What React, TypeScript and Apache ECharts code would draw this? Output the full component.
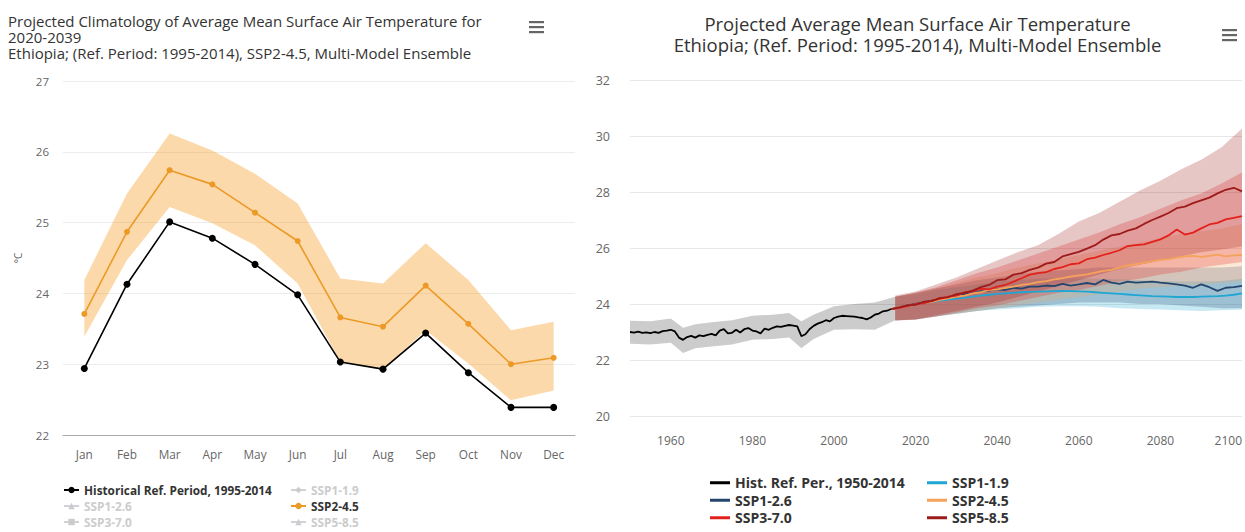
import React, { useEffect, useRef } from "react";
import * as echarts from "echarts";

const FONT = "'Open Sans', 'Noto Sans', sans-serif";

// ---------- Left chart: monthly climatology 2020-2039 ----------
const months = ["Jan", "Feb", "Mar", "Apr", "May", "Jun", "Jul", "Aug", "Sep", "Oct", "Nov", "Dec"];
const histMonthly = [22.94, 24.13, 25.01, 24.78, 24.41, 23.98, 23.03, 22.93, 23.44, 22.88, 22.39, 22.39];
const ssp245Monthly = [23.71, 24.87, 25.74, 25.54, 25.14, 24.74, 23.66, 23.53, 24.11, 23.57, 23.0, 23.09];
const ssp245MonthlyUpper = [24.19, 25.41, 26.26, 26.02, 25.69, 25.27, 24.21, 24.14, 24.71, 24.19, 23.48, 23.6];
const ssp245MonthlyLower = [23.39, 24.47, 25.22, 24.99, 24.68, 24.14, 23.03, 22.92, 23.48, 23.01, 22.49, 22.63];
const leftYTicks = { min: 22, max: 27, step: 1 };

// ---------- Right chart: annual series 1950-2100 ----------
const histStartYear = 1950;
const histAnnual = [
  23.0, 22.98, 23.01, 22.97, 22.99, 22.96, 23.0, 22.97, 23.03, 23.05,
  23.08, 23.02, 22.8, 22.72, 22.82, 22.86, 22.8, 22.88, 22.85, 22.9,
  22.93, 22.88, 23.05, 23.1, 22.95, 22.97, 23.08, 22.98, 23.1, 23.14,
  23.05, 23.02, 22.95, 23.12, 23.08, 23.15, 23.2, 23.18, 23.22, 23.25,
  23.23, 23.2, 22.85, 22.92, 23.1, 23.22, 23.3, 23.35, 23.42, 23.38,
  23.5, 23.55, 23.58, 23.57, 23.56, 23.55, 23.52, 23.5, 23.45, 23.52,
  23.62, 23.66, 23.74, 23.76, 23.82,
];
const histBandYears = [1950, 1955, 1960, 1963, 1966, 1970, 1975, 1980, 1985, 1989, 1992, 1995, 2000, 2005, 2010, 2015];
const histBandUpper = [23.4, 23.38, 23.48, 23.15, 23.28, 23.35, 23.42, 23.58, 23.62, 23.68, 23.38, 23.62, 23.92, 24.0, 24.05, 24.26];
const histBandLower = [22.58, 22.55, 22.62, 22.25, 22.42, 22.48, 22.55, 22.72, 22.75, 22.8, 22.42, 22.75, 23.08, 23.1, 23.08, 23.42];

// projection lines: every 2 years, 2014..2100
const projStartYear = 2014;
const projStep = 2;
const ssp119 = [
  23.82, 23.88, 23.94, 23.98, 24.04, 24.08, 24.12, 24.16, 24.19, 24.22,
  24.26, 24.3, 24.33, 24.36, 24.38, 24.4, 24.42, 24.43, 24.44, 24.45,
  24.46, 24.47, 24.46, 24.45, 24.44, 24.42, 24.4, 24.38, 24.36, 24.34,
  24.32, 24.3, 24.28, 24.27, 24.26, 24.25, 24.25, 24.25, 24.26, 24.27,
  24.28, 24.3, 24.33, 24.38,
];
const ssp126 = [
  23.82, 23.88, 23.95, 24.0, 24.06, 24.12, 24.18, 24.24, 24.3, 24.36,
  24.4, 24.46, 24.48, 24.52, 24.5, 24.58, 24.55, 24.62, 24.62, 24.66,
  24.64, 24.72, 24.66, 24.7, 24.75, 24.7, 24.86, 24.76, 24.72, 24.8,
  24.76, 24.78, 24.8, 24.76, 24.74, 24.7, 24.66, 24.58, 24.7, 24.6,
  24.47, 24.58, 24.6, 24.65,
];
const ssp245 = [
  23.82, 23.88, 23.93, 23.98, 24.04, 24.08, 24.15, 24.2, 24.26, 24.3,
  24.38, 24.42, 24.5, 24.52, 24.58, 24.62, 24.68, 24.72, 24.78, 24.82,
  24.88, 24.92, 24.98, 25.02, 25.06, 25.12, 25.18, 25.22, 25.3, 25.38,
  25.42, 25.48, 25.52, 25.58, 25.6, 25.66, 25.7, 25.72, 25.68, 25.72,
  25.76, 25.7, 25.74, 25.75,
];
const ssp370 = [
  23.82, 23.86, 23.92, 24.0, 24.02, 24.12, 24.18, 24.26, 24.3, 24.42,
  24.45, 24.55, 24.52, 24.62, 24.68, 24.8, 24.92, 25.05, 25.1, 25.14,
  25.25, 25.32, 25.42, 25.45, 25.6, 25.66, 25.75, 25.83, 25.92, 26.07,
  26.1, 26.13, 26.22, 26.31, 26.45, 26.66, 26.48, 26.55, 26.7, 26.84,
  26.9, 27.02, 27.08, 27.14,
];
const ssp585 = [
  23.82, 23.88, 23.95, 23.97, 24.08, 24.1, 24.22, 24.24, 24.35, 24.4,
  24.48, 24.6, 24.68, 24.85, 24.88, 25.05, 25.1, 25.22, 25.3, 25.44,
  25.5, 25.7, 25.78, 25.86, 25.98, 26.1, 26.3, 26.45, 26.5, 26.62,
  26.7, 26.86, 27.0, 27.12, 27.25, 27.42, 27.48, 27.6, 27.7, 27.8,
  27.95, 28.08, 28.15, 28.02,
];

// projection ranges: every 5 years, 2015..2100
const bandStartYear = 2015;
const bandStep = 5;
const ssp119Upper = [24.26, 24.35, 24.5, 24.6, 24.7, 24.8, 24.85, 24.9, 24.92, 24.92, 24.9, 24.88, 24.85, 24.82, 24.8, 24.8, 24.82, 24.9];
const ssp119Lower = [23.42, 23.45, 23.55, 23.65, 23.75, 23.8, 23.85, 23.9, 23.92, 23.92, 23.9, 23.85, 23.82, 23.8, 23.78, 23.75, 23.78, 23.8];
const ssp126Upper = [24.26, 24.4, 24.55, 24.7, 24.85, 24.95, 25.05, 25.15, 25.2, 25.25, 25.3, 25.3, 25.3, 25.3, 25.3, 25.3, 25.3, 25.35];
const ssp126Lower = [23.42, 23.45, 23.55, 23.65, 23.75, 23.85, 23.9, 23.95, 24.0, 24.05, 24.05, 24.05, 24.0, 24.0, 23.95, 23.9, 23.85, 23.85];
const ssp245Upper = [24.26, 24.4, 24.55, 24.75, 24.95, 25.1, 25.3, 25.45, 25.6, 25.75, 25.9, 26.05, 26.2, 26.35, 26.5, 26.6, 26.7, 26.85];
const ssp245Lower = [23.42, 23.45, 23.55, 23.65, 23.75, 23.85, 23.95, 24.05, 24.15, 24.25, 24.35, 24.45, 24.55, 24.6, 24.65, 24.7, 24.75, 24.8];
const ssp370Upper = [24.26, 24.4, 24.6, 24.85, 25.1, 25.3, 25.55, 25.8, 26.05, 26.3, 26.55, 26.85, 27.1, 27.4, 27.7, 27.95, 28.3, 28.7];
const ssp370Lower = [23.42, 23.45, 23.55, 23.7, 23.85, 23.95, 24.1, 24.25, 24.4, 24.5, 24.65, 24.8, 24.9, 25.05, 25.15, 25.3, 25.4, 25.5];
const ssp585Upper = [24.3, 24.45, 24.7, 24.95, 25.25, 25.55, 25.85, 26.1, 26.5, 26.95, 27.25, 27.65, 28.05, 28.4, 28.8, 29.15, 29.6, 30.27];
const ssp585Lower = [23.4, 23.45, 23.6, 23.75, 23.9, 24.05, 24.25, 24.45, 24.65, 24.85, 25.05, 25.25, 25.4, 25.55, 25.7, 25.85, 25.95, 26.05];

const rightYTicks = { min: 20, max: 32, step: 2 };
const rightXRange = { min: 1950, max: 2100, step: 10, labelEvery: 20 };

const COLORS = {
  hist: "#000000",
  ssp119: "#1fa6d3",
  ssp126: "#24466e",
  ssp245: "#f5a25a",
  ssp370: "#e3211c",
  ssp585: "#9e1b1b",
};

function hexToRgba(hex: string, a: number) {
  const n = parseInt(hex.slice(1), 16);
  return `rgba(${(n >> 16) & 255},${(n >> 8) & 255},${n & 255},${a})`;
}

function bandSeries(name: string, xs: number[], lo: number[], hi: number[], fill: string) {
  const data = xs.map((x, i) => [x, lo[i], hi[i]]);
  return {
    type: "custom",
    name,
    silent: true,
    data,
    encode: { x: 0, y: [1, 2] },
    renderItem: (params: any, api: any) => {
      if (params.dataIndex !== 0) return null;
      const top = data.map((d) => api.coord([d[0], d[2]]));
      const bot = data.map((d) => api.coord([d[0], d[1]])).reverse();
      return {
        type: "polygon",
        shape: { points: top.concat(bot) },
        style: { fill },
        silent: true,
      };
    },
  };
}

function menuIcon(x: number, y: number) {
  return {
    type: "group",
    x,
    y,
    children: [0, 5, 10].map((dy) => ({
      type: "rect",
      shape: { x: 0, y: dy, width: 15, height: 2.2 },
      style: { fill: "#666" },
    })),
  };
}

function buildLeft() {
  const HIST = "Historical Ref. Period, 1995-2014";
  const legendText = { fontSize: 11.8, fontWeight: "bold", color: "#333", fontFamily: FONT, lineHeight: 14 };
  const hidden = { "SSP1-1.9": false, "SSP1-2.6": false, "SSP3-7.0": false, "SSP5-8.5": false };
  const legendBase = {
    orient: "vertical",
    top: 483,
    padding: 0,
    itemWidth: 15,
    itemHeight: 8,
    itemGap: 2,
    inactiveColor: "#ccc",
    textStyle: legendText,
    selected: hidden,
  };
  return {
    animation: false,
    textStyle: { fontFamily: FONT },
    title: {
      text: "Projected Climatology of Average Mean Surface Air Temperature for\n2020-2039",
      subtext: "Ethiopia; (Ref. Period: 1995-2014), SSP2-4.5, Multi-Model Ensemble",
      left: 8,
      top: 12.5,
      padding: 0,
      itemGap: 0,
      textStyle: { fontSize: 15, fontWeight: "normal", color: "#333", lineHeight: 16.3, fontFamily: FONT },
      subtextStyle: { fontSize: 15, color: "#333", lineHeight: 16.3, fontFamily: FONT },
    },
    graphic: [menuIcon(529, 21)],
    grid: { left: 63, right: 15, top: 81, bottom: 97 },
    xAxis: {
      type: "category",
      data: months,
      boundaryGap: true,
      axisLine: { lineStyle: { color: "#aaa" } },
      axisTick: { show: false },
      axisLabel: { color: "#666", fontSize: 11.8, margin: 13 },
    },
    yAxis: {
      type: "value",
      min: leftYTicks.min,
      max: leftYTicks.max,
      interval: leftYTicks.step,
      name: "°C",
      nameLocation: "middle",
      nameGap: 40,
      nameTextStyle: { color: "#666", fontSize: 10 },
      axisLabel: { color: "#666", fontSize: 11.5, margin: 14 },
      splitLine: { lineStyle: { color: "#ececec" } },
    },
    legend: [
      { ...legendBase, left: 63, data: [HIST, "SSP1-2.6", "SSP3-7.0"] },
      { ...legendBase, left: 290, data: ["SSP1-1.9", "SSP2-4.5", "SSP5-8.5"] },
    ],
    series: [
      bandSeries(
        "SSP2-4.5 range",
        months.map((_, i) => i),
        ssp245MonthlyLower,
        ssp245MonthlyUpper,
        "rgba(246,154,35,0.38)"
      ),
      {
        type: "line",
        name: HIST,
        data: histMonthly,
        color: "#000",
        symbol: "circle",
        symbolSize: 7,
        lineStyle: { width: 1.6, color: "#000" },
        itemStyle: { color: "#000" },
      },
      {
        type: "line",
        name: "SSP2-4.5",
        data: ssp245Monthly,
        color: "#ec9a27",
        symbol: "circle",
        symbolSize: 6,
        lineStyle: { width: 1.6, color: "#ec9a27" },
        itemStyle: { color: "#ec9a27" },
      },
      { type: "line", name: "SSP1-1.9", data: [], symbol: "diamond", color: "#999" },
      { type: "line", name: "SSP1-2.6", data: [], symbol: "triangle", color: "#999" },
      { type: "line", name: "SSP3-7.0", data: [], symbol: "rect", color: "#999" },
      { type: "line", name: "SSP5-8.5", data: [], symbol: "triangle", color: "#999" },
    ],
  };
}

function buildRight() {
  const HIST = "Hist. Ref. Per., 1950-2014";
  const histData = histAnnual.map((v, i) => [histStartYear + i, v]);
  const projX = (i: number) => projStartYear + i * projStep;
  const bandYears = ssp585Upper.map((_, i) => bandStartYear + i * bandStep);
  const legendText = { fontSize: 14, fontWeight: "bold", color: "#333", fontFamily: FONT, lineHeight: 15.5 };
  const legendBase = {
    orient: "vertical",
    top: 475,
    padding: 0,
    icon: "rect",
    itemWidth: 20,
    itemHeight: 3,
    itemGap: 2,
    textStyle: legendText,
  };
  const line = (name: string, vals: number[], color: string) => ({
    type: "line",
    name,
    data: vals.map((v, i) => [projX(i), v]),
    color,
    showSymbol: false,
    symbol: "none",
    lineStyle: { width: 1.8, color },
    itemStyle: { color },
  });
  const A = 0.25;
  return {
    animation: false,
    textStyle: { fontFamily: FONT },
    title: {
      text: "Projected Average Mean Surface Air Temperature\nEthiopia; (Ref. Period: 1995-2014), Multi-Model Ensemble",
      left: "center",
      top: 13,
      padding: 0,
      textStyle: { fontSize: 18.5, fontWeight: "normal", color: "#333", lineHeight: 21, fontFamily: FONT },
    },
    graphic: [menuIcon(632, 29)],
    grid: { left: 40, right: 3, top: 80, bottom: 116 },
    xAxis: {
      type: "value",
      min: rightXRange.min,
      max: rightXRange.max,
      interval: rightXRange.step,
      axisLine: { show: false },
      axisTick: { show: false },
      splitLine: { show: false },
      axisLabel: {
        color: "#666",
        fontSize: 12,
        margin: 18,
        alignMaxLabel: "right",
        formatter: (v: number) => (v % rightXRange.labelEvery === 0 ? String(v) : ""),
      },
    },
    yAxis: {
      type: "value",
      min: rightYTicks.min,
      max: rightYTicks.max,
      interval: rightYTicks.step,
      axisLine: { show: false },
      axisTick: { show: false },
      axisLabel: { color: "#666", fontSize: 12.5, margin: 20 },
      splitLine: { lineStyle: { color: "#e6e6e6" } },
    },
    legend: [
      { ...legendBase, left: 120, data: [HIST, "SSP1-2.6", "SSP3-7.0"] },
      { ...legendBase, left: 337, data: ["SSP1-1.9", "SSP2-4.5", "SSP5-8.5"] },
    ],
    series: [
      bandSeries("hist range", histBandYears, histBandLower, histBandUpper, "rgba(0,0,0,0.2)"),
      bandSeries("SSP1-1.9 range", bandYears, ssp119Lower, ssp119Upper, hexToRgba(COLORS.ssp119, A)),
      bandSeries("SSP1-2.6 range", bandYears, ssp126Lower, ssp126Upper, hexToRgba(COLORS.ssp126, A)),
      bandSeries("SSP2-4.5 range", bandYears, ssp245Lower, ssp245Upper, hexToRgba(COLORS.ssp245, A)),
      bandSeries("SSP3-7.0 range", bandYears, ssp370Lower, ssp370Upper, hexToRgba(COLORS.ssp370, A)),
      bandSeries("SSP5-8.5 range", bandYears, ssp585Lower, ssp585Upper, hexToRgba(COLORS.ssp585, A)),
      {
        type: "line",
        name: HIST,
        data: histData,
        color: COLORS.hist,
        showSymbol: false,
        symbol: "none",
        lineStyle: { width: 1.8, color: COLORS.hist },
        itemStyle: { color: COLORS.hist },
      },
      line("SSP1-1.9", ssp119, COLORS.ssp119),
      line("SSP1-2.6", ssp126, COLORS.ssp126),
      line("SSP2-4.5", ssp245, COLORS.ssp245),
      line("SSP3-7.0", ssp370, COLORS.ssp370),
      line("SSP5-8.5", ssp585, COLORS.ssp585),
    ],
  };
}

export default function App() {
  const leftRef = useRef<HTMLDivElement>(null);
  const rightRef = useRef<HTMLDivElement>(null);
  useEffect(() => {
    const left = echarts.init(leftRef.current as HTMLDivElement, null, { renderer: "svg" });
    const right = echarts.init(rightRef.current as HTMLDivElement, null, { renderer: "svg" });
    left.setOption(buildLeft() as any);
    right.setOption(buildRight() as any);
    return () => {
      left.dispose();
      right.dispose();
    };
  }, []);
  return (
    <div
      style={{
        position: "absolute",
        left: 0,
        top: 0,
        width: 1245,
        height: 532,
        display: "flex",
        background: "#fff",
      }}
    >
      <div ref={leftRef} style={{ width: 590, height: 532 }} />
      <div ref={rightRef} style={{ width: 655, height: 532 }} />
    </div>
  );
}
